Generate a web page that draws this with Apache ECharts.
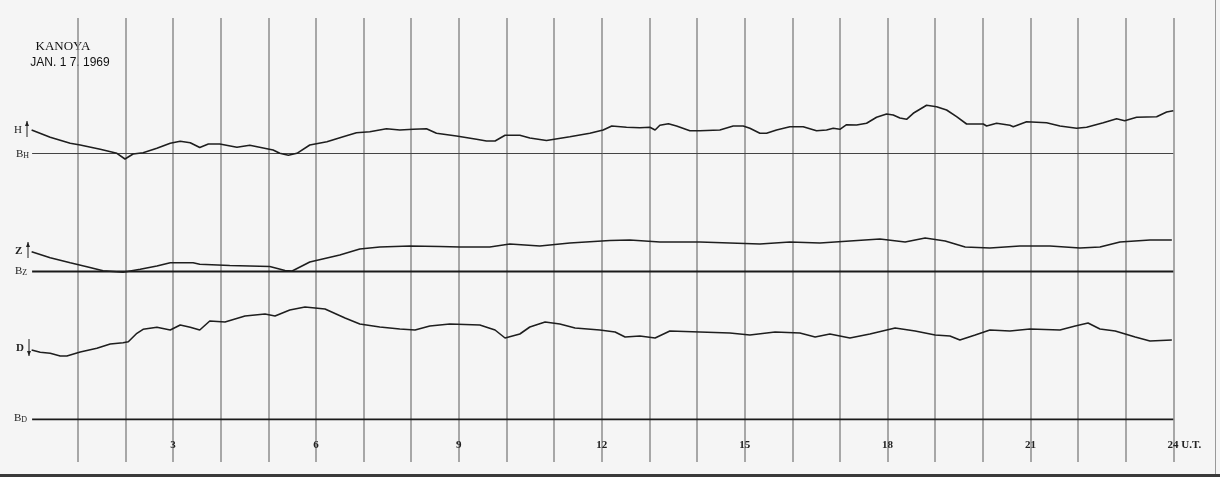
<!DOCTYPE html>
<html><head><meta charset="utf-8">
<script src="https://cdn.jsdelivr.net/npm/echarts@6/dist/echarts.min.js"></script>
<style>html,body{margin:0;padding:0;background:#f5f5f5}#c{width:1220px;height:477px}</style>
</head><body><div id="c"></div>
<script>
// hour-axis ticks (U.T.)
const hourTicks = [3, 6, 9, 12, 15, 18, 21, 24];
// traces: [hour, deflection above own baseline]
const traceH = [[0.03,23.5],[0.42,16.2],[0.84,10.2],[1.05,8.5],[1.47,4.2],[1.82,0.2],[1.99,-5.5],[2.16,-0.5],[2.37,0.8],[2.66,5.2],[2.94,10.2],[3.15,12.2],[3.36,10.8],[3.56,6],[3.74,9.5],[3.98,9.5],[4.34,6.2],[4.61,8.2],[4.97,4.8],[5.10,3.5],[5.24,0.2],[5.42,-1.8],[5.60,0.2],[5.87,8.5],[6.23,11.8],[6.57,16.8],[6.85,20.8],[7.13,21.8],[7.48,24.8],[7.76,23.5],[8.04,24.2],[8.32,24.8],[8.53,20.2],[8.95,17.5],[9.37,14.2],[9.58,12.5],[9.76,12.5],[9.97,18.2],[10.28,18.2],[10.49,15.5],[10.84,13],[11.33,16.8],[11.75,20.2],[12.03,23.5],[12.21,27.5],[12.52,26.2],[12.80,25.8],[13.01,26.2],[13.12,23.5],[13.22,28.2],[13.40,29.8],[13.57,27.5],[13.85,22.8],[14.06,22.8],[14.48,23.5],[14.76,27.5],[14.97,27.5],[15.11,25.2],[15.32,20.2],[15.46,20.2],[15.67,23.5],[15.95,26.8],[16.23,26.8],[16.51,22.8],[16.72,23.5],[16.86,25.2],[17.00,24.2],[17.14,28.8],[17.35,28.5],[17.56,30.2],[17.77,36.2],[17.98,39.5],[18.12,38.5],[18.26,35.5],[18.40,34.2],[18.54,40.2],[18.82,48.2],[19.03,46.8],[19.24,43.5],[19.45,36.8],[19.66,29.5],[20.01,29.5],[20.08,27.5],[20.29,30.2],[20.57,28.2],[20.64,26.8],[20.92,31.8],[21.34,30.8],[21.62,27.5],[21.97,25.2],[22.18,26.2],[22.53,30.8],[22.81,34.8],[22.98,32.8],[23.23,36.2],[23.65,36.8],[23.86,41.5],[24.0,42.8]];
const traceZ = [[0.03,19.8],[0.42,13.8],[0.84,8.8],[1.19,4.8],[1.53,0.8],[1.95,-0.8],[2.31,2.2],[2.66,5.5],[2.94,8.8],[3.42,8.8],[3.56,7.2],[4.19,6],[5.03,5],[5.35,1],[5.50,0.5],[5.87,9.5],[6.50,16.5],[6.92,22.5],[7.34,24.5],[7.97,25.5],[8.60,25],[9.02,24.5],[9.65,24.5],[10.07,27.5],[10.70,25.5],[11.33,28.5],[12.17,31],[12.59,31.5],[13.22,29.5],[14.06,29.5],[14.69,28.5],[15.32,27.5],[15.95,29.5],[16.58,28.5],[17.21,30.5],[17.84,32.5],[18.37,29.5],[18.79,33.5],[19.21,30.5],[19.63,24.5],[20.15,23.5],[20.78,25.5],[21.41,25.5],[22.04,23.5],[22.46,24.5],[22.88,29.5],[23.51,31.5],[23.97,31.5]];
const traceD = [[0.03,69.3],[0.21,67],[0.42,66],[0.63,63.3],[0.77,63.3],[1.05,67.3],[1.40,71],[1.68,75.3],[1.95,76.6],[2.06,77.6],[2.24,86],[2.37,90],[2.66,92],[2.94,89.3],[3.15,94.3],[3.36,92],[3.56,89.3],[3.77,98.3],[4.09,97.3],[4.51,103.3],[4.93,105.3],[5.14,103.3],[5.45,109.3],[5.77,112.3],[6.19,110.3],[6.61,101.3],[6.92,95.3],[7.34,92.3],[7.76,90.3],[8.08,89.3],[8.39,93.3],[8.81,95.3],[9.44,94.3],[9.76,89.3],[9.97,81.3],[10.28,85.3],[10.49,92.3],[10.81,97.3],[11.12,95.3],[11.44,91.3],[11.96,89.3],[12.28,87.3],[12.49,82.3],[12.80,83.3],[13.12,81.3],[13.43,88.3],[14.06,87.3],[14.69,86.3],[15.11,84.3],[15.64,87.3],[16.16,86.3],[16.48,82.3],[16.79,85.3],[17.21,81.3],[17.63,85.3],[18.16,91.3],[18.58,88.3],[19.00,84.3],[19.31,83.3],[19.52,79.3],[19.84,84.3],[20.15,89.3],[20.57,88.3],[20.99,90.3],[21.62,89.3],[21.94,93.3],[22.21,96.3],[22.46,90.3],[22.78,88.3],[23.20,82.3],[23.51,78.3],[23.97,79.3]];

// layout constants (baseline levels on the shared vertical scale)
const BASE = { H: 308.5, Z: 190.5, D: 42.7 };
const shift = (arr, b) => arr.map(p => [p[0], b + p[1]]);

const chart = echarts.init(document.getElementById('c'), null, { renderer: 'canvas' });
const traceStyle = { color: '#1e1e1e', width: 1.6 };
const serif = '"Liberation Serif","DejaVu Serif",serif';
const sans = '"Liberation Sans","DejaVu Sans",sans-serif';

function baseline(name, b, w, c) {
  return { name, type: 'line', data: [[0.04, b], [24, b]], symbol: 'none', silent: true,
           lineStyle: { color: c, width: w }, z: 3 };
}
function arrow(x, yTop, yBot, up) {
  const tipY = up ? yTop : yBot;
  const d = up ? 1 : -1;
  return [
    { type: 'line', shape: { x1: x, y1: yTop, x2: x, y2: yBot }, style: { stroke: '#222', lineWidth: 1 } },
    { type: 'polygon', shape: { points: [[x, tipY], [x - 2, tipY + 5 * d], [x + 2, tipY + 5 * d]] }, style: { fill: '#222' } }
  ];
}
function sub(x, y, big, small) {
  return { type: 'text', x, y, style: { text: '{b|' + big + '}{s|' + small + '}', rich: {
    b: { font: '11px ' + serif, fill: '#222' }, s: { font: '8px ' + serif, fill: '#222', padding: [3, 0, 0, 0] } },
    verticalAlign: 'middle' } };
}

chart.setOption({
  backgroundColor: '#f5f5f5',
  animation: false,
  grid: { left: 30.2, right: 46.7, top: 18, bottom: 15 },
  xAxis: {
    type: 'value', min: 0, max: 24, interval: 1,
    axisLine: { show: false }, axisTick: { show: false },
    splitLine: { show: true, showMinLine: false, lineStyle: { color: '#8c8c8c', width: 1.5 } },
    axisLabel: {
      margin: -22, fontFamily: serif, fontSize: 11, fontWeight: 'bold', color: '#222',
      formatter: v => hourTicks.indexOf(v) < 0 ? '' : (v === 24 ? '{r|24 U.T.}' : String(v)),
      rich: { r: { fontFamily: serif, fontSize: 11, fontWeight: 'bold', color: '#222', padding: [0, 0, 0, 22] } }
    }
  },
  yAxis: { type: 'value', min: 0, max: 444, show: false, splitLine: { show: false } },
  series: [
    baseline('BH', BASE.H, 1, '#444'),
    baseline('BZ', BASE.Z, 1.8, '#1a1a1a'),
    baseline('BD', BASE.D, 1.8, '#1a1a1a'),
    { name: 'H', type: 'line', data: shift(traceH, BASE.H), symbol: 'none', lineStyle: traceStyle, z: 4 },
    { name: 'Z', type: 'line', data: shift(traceZ, BASE.Z), symbol: 'none', lineStyle: traceStyle, z: 4 },
    { name: 'D', type: 'line', data: shift(traceD, BASE.D), symbol: 'none', lineStyle: traceStyle, z: 4 }
  ],
  graphic: [
    { type: 'text', x: 63, y: 47, style: { text: 'KANOYA', font: '13px ' + serif, fill: '#111', align: 'center', verticalAlign: 'middle' } },
    { type: 'text', x: 70, y: 63, style: { text: 'JAN. 1 7. 1969', font: '12px ' + sans, fill: '#111', align: 'center', verticalAlign: 'middle' } },
    { type: 'text', x: 14, y: 130, style: { text: 'H', font: '11px ' + serif, fill: '#222', verticalAlign: 'middle' } },
    ...arrow(27, 121, 137, true),
    sub(16, 154, 'B', 'H'),
    { type: 'text', x: 15, y: 251, style: { text: 'Z', font: 'bold 11px ' + serif, fill: '#222', verticalAlign: 'middle' } },
    ...arrow(28, 242, 258, true),
    sub(15, 271, 'B', 'Z'),
    { type: 'text', x: 16, y: 348, style: { text: 'D', font: 'bold 11px ' + serif, fill: '#222', verticalAlign: 'middle' } },
    ...arrow(29, 339, 356, false),
    sub(14, 418, 'B', 'D'),
    { type: 'rect', shape: { x: 0, y: 474, width: 1220, height: 3 }, style: { fill: '#3a3a3a' } },
    { type: 'rect', shape: { x: 1215, y: 0, width: 1, height: 474 }, style: { fill: '#999' } }
  ]
});
</script></body></html>
